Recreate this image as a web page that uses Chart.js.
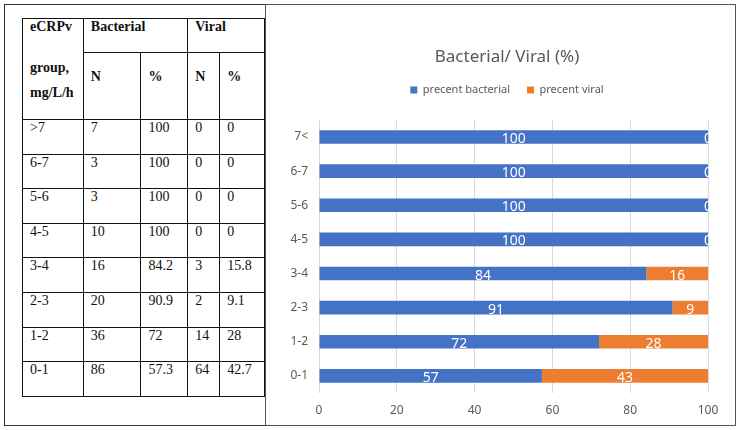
<!DOCTYPE html>
<html lang="en">
<head>
<meta charset="UTF-8">
<title>eCRPv group: bacterial / viral</title>
<script src="https://cdn.jsdelivr.net/npm/chart.js"></script>
<style>
  body { margin: 0; width: 740px; height: 430px; background: #fff; position: relative; overflow: hidden; }
  #left { position: absolute; left: 4px; top: 4px; width: 260px; height: 420px; border: 1px solid #333; }
  #right { position: absolute; left: 265px; top: 4px; width: 469px; height: 420px; border: 1px solid #555; }
  #tbl { position: absolute; left: 17px; top: 13px; border-collapse: collapse;
         font-family: "Liberation Serif", "Times New Roman", serif; font-size: 14px; color: #111; }
  #tbl td { border: 1px solid #111; vertical-align: top; padding: 0 0 0 7px; line-height: 16px; box-sizing: border-box; }
  #tbl .h { font-weight: bold; }
  #tbl .sub { padding-top: 16px; }
  canvas { position: absolute; left: 0; top: 0; }
</style>
</head>
<body>
<div id="left">
  <table id="tbl">
    <colgroup>
      <col style="width:61px"><col style="width:58px"><col style="width:47px"><col style="width:32px"><col style="width:45px">
    </colgroup>
    <tr style="height:34px">
      <td class="h" rowspan="2">eCRPv<div style="margin-top:25px">group,</div><div style="margin-top:9px">mg/L/h</div></td>
      <td class="h" colspan="2">Bacterial</td>
      <td class="h" colspan="2">Viral</td>
    </tr>
    <tr style="height:67px">
      <td class="h sub">N</td><td class="h sub">%</td><td class="h sub">N</td><td class="h sub">%</td>
    </tr>
  </table>
</div>
<div id="right">
  <canvas id="chart" width="469" height="420"></canvas>
</div>

<script>
// table values
const tableGroups = ['>7', '6-7', '5-6', '4-5', '3-4', '2-3', '1-2', '0-1'];
const nBacterial = ['7', '3', '3', '10', '16', '20', '36', '86'];
const pBacterial = ['100', '100', '100', '100', '84.2', '90.9', '72', '57.3'];
const nViral = ['0', '0', '0', '0', '3', '2', '14', '64'];
const pViral = ['0', '0', '0', '0', '15.8', '9.1', '28', '42.7'];

// chart values
const groups = ['7<', '6-7', '5-6', '4-5', '3-4', '2-3', '1-2', '0-1'];
const pctBacterial = [100, 100, 100, 100, 84.2, 90.9, 72, 57.3];
const pctViral = [0, 0, 0, 0, 15.8, 9.1, 28, 42.7];
const xTicks = [0, 20, 40, 60, 80, 100];

const tbl = document.getElementById('tbl');
tableGroups.forEach((g, i) => {
  const tr = document.createElement('tr');
  tr.style.height = '34.6px';
  [g, nBacterial[i], pBacterial[i], nViral[i], pViral[i]].forEach(v => {
    const td = document.createElement('td');
    td.textContent = v;
    tr.appendChild(td);
  });
  tbl.appendChild(tr);
});

const font = '"Noto Sans", "Open Sans", sans-serif';
const grey = '#595959';

// white value labels in the middle of each bar
const barLabels = {
  id: 'barLabels',
  afterDatasetsDraw(chart) {
    const ctx = chart.ctx;
    ctx.save();
    ctx.font = '14px ' + font;
    ctx.fillStyle = '#fff';
    ctx.textAlign = 'center';
    ctx.textBaseline = 'middle';
    chart.data.datasets.forEach((ds, di) => {
      chart.getDatasetMeta(di).data.forEach((bar, i) => {
        const p = bar.getProps(['x', 'y', 'base'], true);
        ctx.fillText(Math.round(ds.data[i]), (p.x + p.base) / 2, p.y + 2);
      });
    });
    ctx.restore();
  }
};

new Chart(document.getElementById('chart'), {
  type: 'bar',
  data: {
    labels: groups,
    datasets: [
      { label: 'precent bacterial', data: pctBacterial, backgroundColor: '#4472C4',
        barPercentage: 0.5, categoryPercentage: 0.8 },
      { label: 'precent viral', data: pctViral, backgroundColor: '#ED7D31',
        barPercentage: 0.5, categoryPercentage: 0.8 }
    ]
  },
  options: {
    indexAxis: 'y',
    responsive: false,
    animation: false,
    layout: { padding: { left: 13, right: 0, top: 0, bottom: 0 } },
    plugins: {
      title: {
        display: true,
        text: 'Bacterial/ Viral (%)',
        color: grey,
        font: { family: font, size: 17, weight: 'normal' },
        padding: { top: 42, bottom: 0 }
      },
      legend: {
        labels: {
          boxWidth: 7, boxHeight: 7, padding: 17, color: grey,
          font: { family: font, size: 11 }
        }
      },
      tooltip: { enabled: false }
    },
    scales: {
      x: {
        stacked: true,
        min: 0, max: 100,
        afterBuildTicks: s => { s.ticks = xTicks.map(v => ({ value: v })); },
        grid: { color: '#d9d9d9', drawTicks: false },
        border: { display: false },
        ticks: { color: grey, padding: 10, font: { family: font, size: 12 } },
        afterFit: s => { s.height = 32; }
      },
      x2: {
        axis: 'x', position: 'top', display: true,
        grid: { display: false }, border: { display: false },
        ticks: { display: false },
        afterFit: s => { s.height = 14.5; }
      },
      y: {
        stacked: true,
        grid: { display: false, drawTicks: false },
        border: { display: false },
        ticks: { color: grey, padding: 11, font: { family: font, size: 12 } },
        afterFit: s => { s.width = 40; }
      },
      y2: {
        axis: 'y', position: 'right', display: true,
        grid: { display: false }, border: { display: false },
        ticks: { display: false },
        afterFit: s => { s.width = 27; }
      }
    }
  },
  plugins: [barLabels]
});
</script>
</body>
</html>
